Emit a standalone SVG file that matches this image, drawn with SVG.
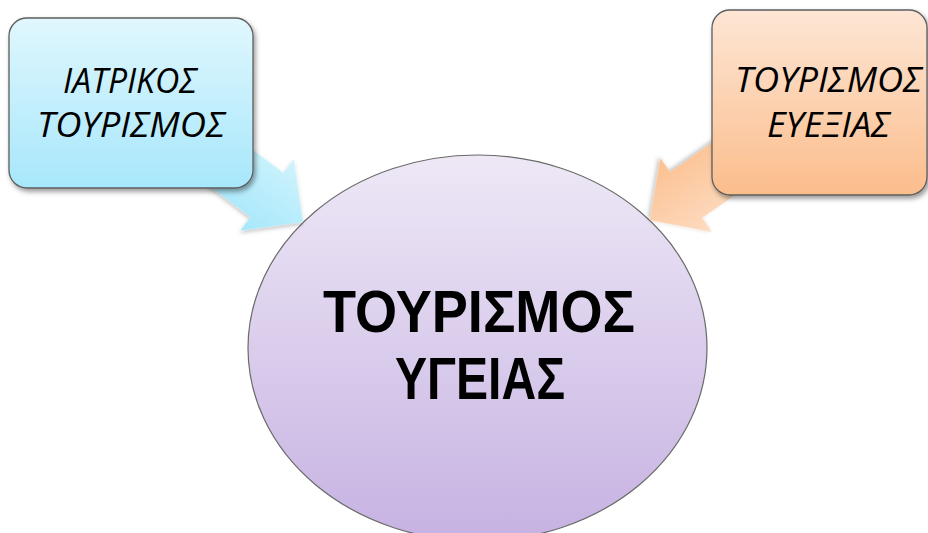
<svg xmlns="http://www.w3.org/2000/svg" width="928" height="533" viewBox="0 0 928 533">
  <defs>
    <linearGradient id="gBlue" x1="0" y1="0" x2="0" y2="1">
      <stop offset="0" stop-color="#e0f7fd"/>
      <stop offset="1" stop-color="#a7e7fb"/>
    </linearGradient>
    <linearGradient id="gOrange" x1="0" y1="0" x2="0" y2="1">
      <stop offset="0" stop-color="#fde6d5"/>
      <stop offset="1" stop-color="#fbbd8c"/>
    </linearGradient>
    <linearGradient id="gPurple" x1="0" y1="0" x2="0" y2="1">
      <stop offset="0" stop-color="#eee8f6"/>
      <stop offset="1" stop-color="#c6b2e2"/>
    </linearGradient>
    <linearGradient id="gArrowBlue" x1="0" y1="0" x2="0" y2="1">
      <stop offset="0" stop-color="#cff3fd"/>
      <stop offset="1" stop-color="#a5e7fb"/>
    </linearGradient>
    <linearGradient id="gArrowOrange" x1="0" y1="0" x2="0" y2="1">
      <stop offset="0" stop-color="#fddcc2"/>
      <stop offset="1" stop-color="#fcc08f"/>
    </linearGradient>
    <filter id="shadow" x="-10%" y="-10%" width="130%" height="130%">
      <feDropShadow dx="2" dy="3" stdDeviation="2.5" flood-color="#000" flood-opacity="0.4"/>
    </filter>
    <filter id="shadowSoft" x="-10%" y="-10%" width="130%" height="130%">
      <feDropShadow dx="1" dy="2" stdDeviation="2" flood-color="#000" flood-opacity="0.25"/>
    </filter>
  </defs>
  <style>
    .box { stroke: #5e5e5e; stroke-width: 1.3; }
    .small { font-family: "Open Sans", "Liberation Sans", sans-serif; font-style: italic; font-size: 34px; fill: #000; text-anchor: middle; }
    .big { font-family: "Liberation Sans", "Open Sans", sans-serif; font-weight: bold; font-size: 59px; fill: #000; text-anchor: middle; }
  </style>
  <rect width="928" height="533" fill="#ffffff"/>

  <g id="center">
    <ellipse cx="477.5" cy="348" rx="229.5" ry="193" fill="url(#gPurple)" stroke="#6a6a6a" stroke-width="1.2"/>
    <text class="big" x="479" y="332" textLength="312" lengthAdjust="spacingAndGlyphs">ΤΟΥΡΙΣΜΟΣ</text>
    <text class="big" x="480" y="399" textLength="170" lengthAdjust="spacingAndGlyphs">ΥΓΕΙΑΣ</text>
  </g>

  <g id="connectors">
    <polygon transform="translate(267,195) rotate(36.9)" points="-110,-27.5 0,-27.5 0,-44.5 45,0 0,44.5 0,27.5 -110,27.5" fill="url(#gArrowBlue)" filter="url(#shadowSoft)"/>
    <polygon transform="translate(686,195) rotate(145.2)" points="-110,-28 0,-28 0,-45 44,0 0,45 0,28 -110,28" fill="url(#gArrowOrange)" filter="url(#shadowSoft)"/>
  </g>

  <g id="medical">
    <rect class="box" x="9" y="18" width="244" height="170" rx="18" fill="url(#gBlue)" filter="url(#shadow)"/>
    <text class="small" x="130" y="93" textLength="134" lengthAdjust="spacingAndGlyphs">ΙΑΤΡΙΚΟΣ</text>
    <text class="small" x="131" y="137" textLength="188" lengthAdjust="spacingAndGlyphs">ΤΟΥΡΙΣΜΟΣ</text>
  </g>

  <g id="wellness">
    <rect class="box" x="712" y="10" width="215" height="185" rx="18" fill="url(#gOrange)" filter="url(#shadow)"/>
    <text class="small" x="828.5" y="92" textLength="187" lengthAdjust="spacingAndGlyphs">ΤΟΥΡΙΣΜΟΣ</text>
    <text class="small" x="828.5" y="137" textLength="123" lengthAdjust="spacingAndGlyphs">ΕΥΕΞΙΑΣ</text>
  </g>
</svg>
